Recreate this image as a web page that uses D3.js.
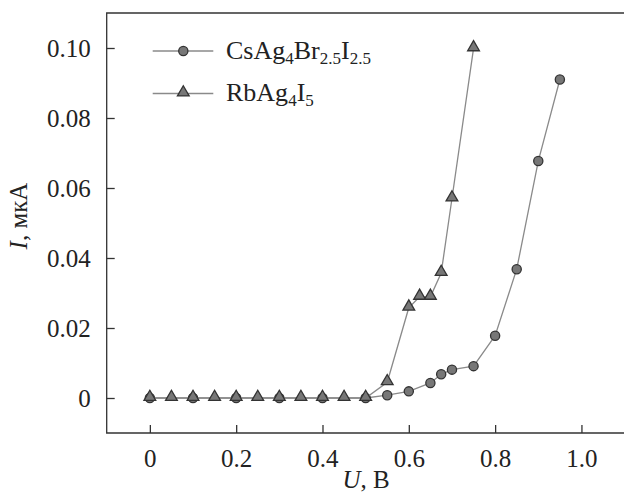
<!DOCTYPE html>
<html>
  <head>
    <style>
    body { margin: 0; background: #fff; }
    </style>
  </head>
  <body>

    <svg width="624" height="499"></svg>

    <script src="https://cdn.jsdelivr.net/npm/d3@7"></script>
    <script>

      // CsAg4Br2.5I2.5
      const csU = [0, 0.1, 0.2, 0.3, 0.4, 0.5, 0.55, 0.6, 0.65, 0.675, 0.7, 0.75, 0.8, 0.85, 0.9, 0.95]
      const csI = [0, 0, 0, 0, 0, 0, 0.0008, 0.0019, 0.0043, 0.0068, 0.0081, 0.0091, 0.0178, 0.0368, 0.0677, 0.091]

      // RbAg4I5
      const rbU = [0, 0.05, 0.1, 0.15, 0.2, 0.25, 0.3, 0.35, 0.4, 0.45, 0.5, 0.55, 0.6, 0.625, 0.65, 0.675, 0.7, 0.75]
      const rbI = [0, 0, 0, 0, 0, 0, 0, 0, 0, 0, 0, 0.0045, 0.0258, 0.0289, 0.0289, 0.0357, 0.057, 0.0999]

      const xTicks = [0, 0.2, 0.4, 0.6, 0.8, 1.0]
      const yTicks = [0, 0.02, 0.04, 0.06, 0.08, 0.10]

      const svg = d3.select('svg')
      const plotLeft = 106.7, plotRight = 624.6, plotTop = 13, plotBottom = 433
      const serif = "'Liberation Serif', 'Times New Roman', serif"

      const x = d3.scaleLinear().domain([-0.1, 1.1]).range([plotLeft, plotRight])
      const y = d3.scaleLinear().domain([-0.01, 0.11]).range([plotBottom, plotTop])

      const ink = '#333'
      const textColor = '#222'
      const lineColor = '#8a8a8a'
      const markFill = '#777'

      // frame
      svg.append('path')
        .attr('d', `M${plotRight},${plotTop}H${plotLeft}V${plotBottom}H${plotRight}`)
        .attr('fill', 'none')
        .attr('stroke', ink)
        .attr('stroke-width', 1.3)

      const xAxis = svg.append('g')
        .attr('transform', `translate(0,${plotBottom})`)
        .call(d3.axisBottom(x).tickValues(xTicks).tickSize(-8).tickPadding(16)
          .tickFormat(d => d === 0 ? '0' : d3.format('.1f')(d)))
      const yAxis = svg.append('g')
        .attr('transform', `translate(${plotLeft},0)`)
        .call(d3.axisLeft(y).tickValues(yTicks).tickSize(-8).tickPadding(16)
          .tickFormat(d => d === 0 ? '0' : d3.format('.2f')(d)))

      for (const ax of [xAxis, yAxis]) {
        ax.select('.domain').remove()
        ax.selectAll('line').attr('stroke', ink).attr('stroke-width', 1.3)
        ax.selectAll('text')
          .style('font-family', serif)
          .style('font-size', '25px')
          .style('fill', textColor)
      }

      // axis titles
      const xt = svg.append('text')
        .attr('x', 366).attr('y', 488)
        .attr('text-anchor', 'middle')
        .style('font-family', serif).style('font-size', '25px').style('fill', textColor)
      xt.append('tspan').attr('font-style', 'italic').text('U')
      xt.append('tspan').text(', В')

      const yt = svg.append('text')
        .attr('transform', 'translate(27,216) rotate(-90)')
        .attr('text-anchor', 'middle')
        .style('font-family', serif).style('font-size', '25px').style('fill', textColor)
      yt.append('tspan').attr('font-style', 'italic').text('I')
      yt.append('tspan').text(', мкА')

      const line = d3.line().x(d => x(d[0])).y(d => y(d[1]))
      const csData = csU.map((u, i) => [u, csI[i]])
      const rbData = rbU.map((u, i) => [u, rbI[i]])

      const triangle = d3.symbol().type(d3.symbolTriangle).size(60)

      function drawSeries(data, marker) {
        svg.append('path')
          .datum(data)
          .attr('d', line)
          .attr('fill', 'none')
          .attr('stroke', lineColor)
          .attr('stroke-width', 1.3)
        const g = svg.append('g')
        data.forEach(d => drawMarker(g, x(d[0]), y(d[1]), marker))
      }

      function drawMarker(g, cx, cy, marker) {
        if (marker === 'circle') {
          g.append('circle')
            .attr('cx', cx).attr('cy', cy).attr('r', 4.6)
            .attr('fill', markFill).attr('stroke', ink).attr('stroke-width', 1.3)
        } else {
          g.append('path')
            .attr('d', triangle())
            .attr('transform', `translate(${cx},${cy - 1})`)
            .attr('fill', markFill).attr('stroke', ink).attr('stroke-width', 1.3)
        }
      }

      drawSeries(csData, 'circle')
      drawSeries(rbData, 'triangle')

      // legend
      const legend = [
        { y: 51, marker: 'circle', parts: [['Cs', 0], ['Ag', 0], ['4', 1], ['Br', 0], ['2.5', 1], ['I', 0], ['2.5', 1]] },
        { y: 93.5, marker: 'triangle', parts: [['Rb', 0], ['Ag', 0], ['4', 1], ['I', 0], ['5', 1]] }
      ]
      legend.forEach(item => {
        svg.append('line')
          .attr('x1', 152.7).attr('x2', 213.3)
          .attr('y1', item.y).attr('y2', item.y)
          .attr('stroke', lineColor).attr('stroke-width', 1.3)
        drawMarker(svg, 183.3, item.y, item.marker)
        const t = svg.append('text')
          .attr('x', 226).attr('y', item.y + 7.5)
          .style('font-family', serif).style('font-size', '26px').style('fill', textColor)
        let sub = 0
        item.parts.forEach(([s, isSub]) => {
          const dy = isSub && !sub ? 5 : (!isSub && sub ? -5 : 0)
          t.append('tspan')
            .attr('dy', dy)
            .style('font-size', isSub ? '17px' : '26px')
            .text(s)
          sub = isSub
        })
      })

    </script>
  </body>
</html>
